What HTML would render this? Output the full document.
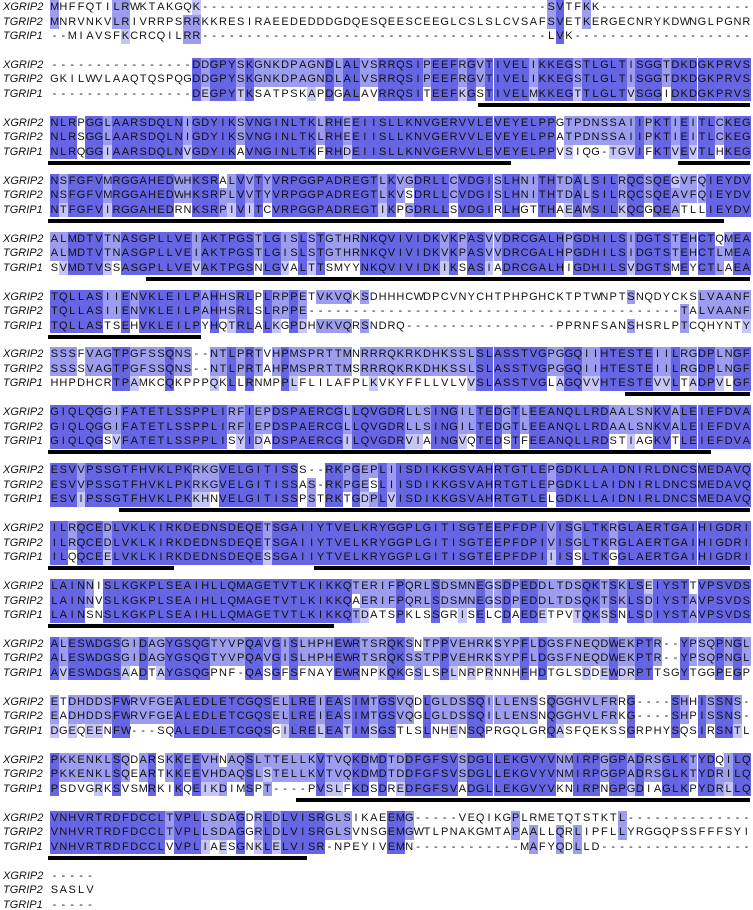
<!DOCTYPE html>
<html><head><meta charset="utf-8">
<style>
html,body{margin:0;padding:0;background:#fff;}
#aln{position:relative;width:753px;height:910px;overflow:hidden;font-family:"Liberation Sans",Arial,sans-serif;font-size:11px;color:#111;}
.lab{position:absolute;left:3px;font-style:italic;line-height:14.5px;height:14.5px;}
.c{position:absolute;width:8.87px;height:14.5px;line-height:14.5px;text-align:center;}
.ul{position:absolute;height:4px;background:#000;}
</style></head>
<body>
<div id="aln"></div>
<script>
const names = ["XGRIP2","TGRIP2","TGRIP1"];
const xgrip2 = [
"MHFFQTILRWKTAKGQK---------------------------------------SVTFKK-----------------",
"----------------DDGPYSKGNKDPAGNDLALVSRRQSIPEEFRGVTIVELIKKEGSTLGLTISGGTDKDGKPRVS",
"NLRPGGLAARSDQLNIGDYIKSVNGINLTKLRHEEIISLLKNVGERVVLEVEYELPPGTPDNSSAIIPKTIEITLCKEG",
"NSFGFVMRGGAHEDWHKSRALVVTYVRPGGPADREGTLKVGDRLLCVDGISLHNITHTDALSILRQCSQEGVFQIEYDV",
"ALMDTVTNASGPLLVEIAKTPGSTLGISLSTGTHRNKQVIVIDKVKPASVVDRCGALHPGDHILSIDGTSTEHCTQMEA",
"TQLLASIIENVKLEILPAHHSRLPLRPPETVKVQKSDHHHCWDPCVNYCHTPHPGHCKTPTWNPTSNQDYCKSLVAANF",
"SSSFVAGTPGFSSQNS--NTLPRTVHPMSPRTTMNRRRQKRKDHKSSLSLASSTVGPGGQIIHTESTEIILRGDPLNGF",
"GIQLQGGIFATETLSSPPLIRFIEPDSPAERCGLLQVGDRLLSINGILTEDGTLEEANQLLRDAALSNKVALEIEFDVA",
"ESVVPSSGTFHVKLPKRKGVELGITISSS--RKPGEPLIISDIKKGSVAHRTGTLEPGDKLLAIDNIRLDNCSMEDAVQ",
"ILRQCEDLVKLKIRKDEDNSDEQETSGAIIYTVELKRYGGPLGITISGTEEPFDPIVISGLTKRGLAERTGAIHIGDRI",
"LAINNISLKGKPLSEAIHLLQMAGETVTLKIKKQTERIFPQRLSDSMNEGSDPEDDLTDSQKTSKLSEIYSTTVPSVDS",
"ALESWDGSGIDAGYGSQGTYVPQAVGISLHPHEWRTSRQKSNTPPVEHRKSYPFLDGSFNEQDWEKPTR--YPSQPNGL",
"ETDHDDSFWRVFGEALEDLETCGQSELLREIEASIMTGSVQDLGLDSSQILLENSSQGGHVLFRRG----SHHISSNS-",
"PKKENKLSQDARSKKEEVHNAQSLTTELLKVTVQKDMDTDDFGFSVSDGLLEKGVYVNMIRPGGPADRSGLKTYDQILQ",
"VNHVRTRDFDCCLTVPLLSDAGDRLDLVISRGLSIKAEEMG-----VEQIKGPLRMETQTSTKTL--------------",
"-----"];
const tgrip2 = [
"MNRVNKVLRIVRRPSRRKKRESIRAEEDEDDDGDQESQEESCEEGLCSLSLCVSAFSVETKERGECNRYKDWNGLPGNR",
"GKILWVLAAQTQSPQGDDGPYSKGNKDPAGNDLALVSRRQSIPEEFRGVTIVELIKKEGSTLGLTISGGTDKDGKPRVS",
"NLRSGGLAARSDQLNIGDYIKSVNGINLTKLRHEEIISLLKNVGERVVLEVEYELPPATPDNSSAIIPKTIEITLCKEG",
"NSFGFVMRGGAHEDWHKSRPLVVTYVRPGGPADREGTLKVSDRLLCVDGISLHNITHTDALSILRQCSQEAVFQIEYDV",
"ALMDTVTNASGPLLVEIAKTPGSTLGISLSTGTHRNKQVIVIDKVKPASVVDRCGALHPGDHILSIDGTSTEHCTLMEA",
"TQLLASIIENVKLEILPAHHSRLSLRPPE------------------------------------------TALVAANF",
"SSSSVAGTPGFSSQNS--NTLPRTAHPMSPRTTMSRRRQKRKDHKSSLSLASSTVGPGGQIIHTESTEIILRGDPLNGF",
"GIQLQGGIFATETLSSPPLIRFIEPDSPAERCGLLQVGDRLLSINGILTEDGTLEEANQLLRDAALSNKVALEIEFDVA",
"ESVVPSSGTFHVKLPKRKGVELGITISSAS-RKPGESLIISDIKKGSVAHRTGTLEPGDKLLAIDNIRLDNCSMEDAVQ",
"ILRQCEDLVKLKIRKDEDNSDEQETSGAIIYTVELKRYGGPLGITISGTEEPFDPIVISGLTKRGLAERTGAIHIGDRI",
"LAINNVSLKGKPLSEAIHLLQMAGETVTLKIKKQAERIFPQRLSDSMNEGSDPEDDLTDSQKTSKLSDIYSTAVPSVDS",
"ALESWDGSGIDAGYGSQGTYVPQAVGISLHPHEWRTSRQKSSTPPVEHRKSYPFLDGSFNEQDWEKPTR--YPSQPNGL",
"EADHDDSFWRVFGEALEDLETCGQSELLREIEASIMTGSVQGLGLDSSQILLENSNQGGHVLFRKG----SHPISSNS-",
"PKKENKLSQEARTKKEEVHDAQSLSTELLKVTVQKDMDTDDFGFSVSDGLLEKGVYVNMIRPGGPADRSGLKTYDRILQ",
"VNHVRTRDFDCCLTVPLLSDAGGRLDLVISRGLSVNSGEMGWTLPNAKGMTAPAALLQRLIPFLLYRGGQPSSFFFSYI",
"SASLV"];
const tgrip1 = [
"--MIAVSFKCRCQILRR---------------------------------------LVK--------------------",
"----------------DEGPYTKSATPSKAPDGALAVRRQSITEEFKGSTIVELMKKEGTTLGLTVSGGIDKDGKPRVS",
"NLRQGGIAARSDQLNVGDYIKAVNGINLTKFRHDEIISLLKNVGERVVLEVEYELPPVSIQG-TGVIFKTVEVTLHKEG",
"NTFGFVIRGGAHEDRNKSRPIVITCVRPGGPADREGTIKPGDRLLSVDGIRLHGTTHAEAMSILKQCGQEATLLIEYDV",
"SVMDTVSSASGPLLVEVAKTPGSNLGVALTTSMYYNKQVIVIDKIKSASIADRCGALHIGDHILSVDGTSMEYCTLAEA",
"TQLLASTSEHVKLEILPYHQTRLALKGPDHVKVQRSNDRQ-----------------PPRNFSANSHSRLPTCQHYNTY",
"HHPDHCRTPAMKCQKPPPQKLLRNMPPLFLILAFPLKVKYFFLLVLVVSLASSTVGLAGQVVHTESTEVVLTADPVLGF",
"GIQLQGSVFATETLSSPPLISYIDADSPAERCGILQVGDRVIAINGVQTEDSTFEEANQLLRDSTIAGKVTLEIEFDVA",
"ESVIPSSGTFHVKLPKKHNVELGITISSPSTRKTGDPLVISDIKKGSVAHRTGTLELGDKLLAIDNIRLDNCSMEDAVQ",
"ILQQCEELVKLKIRKDEDNSDEQESSGAIIYTVELKRYGGPLGITISGTEEPFDPIIISSLTKGGLAERTGAIHIGDRI",
"LAINSNSLKGKPLSEAIHLLQMAGETVTLKIKKQTDATSPKLSSGRISELCDAEDETPVTQKSSNLSDIYSTAVPSVDS",
"AVESWDGSAADTAYGSQGPNF-QASGFSFNAYEWRNPKQKGSLSPLNRPRNNHFHDTGLSDDEWDRPTTSGYTGGPEGP",
"DGEQEENFW---SQALEDLETCGQSGILRELEATIMSGSTLSLNHENSQPRGQLGRQASFQEKSSGRPHYSQSIRSNTL",
"PSDVGRKSVSMRKIKQEIKDIMSPT----PVSLFKDSDREDFGFSVADGLLEKGVYVKNIRPNGPGDIAGLKPYDRLLQ",
"VNHVRTRDFDCCLVVPLIAESGNKLELVISR-NPEYIVEMN------------MAFYQDLLD-----------------",
"-----"];
const domainBlocks = [1,2,2,3,4,5,6,7,8,9,9,10,13,14];
const domainStartCol = [48.5,0,71,0,11,0,65,0,8,0,30,0,28,0];
const domainEndCol = [79,52,79,76,79,17,79,74.5,79,14,79,32,79,29];

const groups = ["ILVM","FYW","KRH","DE","NQ","ST","AG"];
function grp(ch){ for (let g=0; g<groups.length; g++) if (groups[g].indexOf(ch)>=0) return g; return -1; }

const root = document.getElementById('aln');
const X0 = 50, CW = 8.87, BP = 57.9, RP = 14.5, Y0 = 0;
const seqs = [xgrip2, tgrip2, tgrip1];
for (let b = 0; b < xgrip2.length; b++) {
  const top = Y0 + b * BP;
  const rows = seqs.map(s => s[b]);
  for (let r = 0; r < 3; r++) {
    const lab = document.createElement('div');
    lab.className = 'lab';
    lab.style.top = (top + r * RP) + 'px';
    lab.textContent = names[r];
    
    
    root.appendChild(lab);
  }
  const len = rows[0].length;
  for (let i = 0; i < len; i++) {
    const col = rows.map(s => s[i] || '-');
    const counts = {};
    let cons = null, best = 0;
    col.forEach(ch => { if (ch !== '-') { counts[ch] = (counts[ch] || 0) + 1; if (counts[ch] > best) { best = counts[ch]; cons = ch; } } });
    const nonGap = col.filter(c => c !== '-');
    const allSameGroup = nonGap.length === 3 && grp(nonGap[0]) >= 0 && nonGap.every(c => grp(c) === grp(nonGap[0]));
    for (let r = 0; r < 3; r++) {
      const ch = col[r];
      const cell = document.createElement('div');
      cell.className = 'c';
      cell.style.left = (X0 + i * CW) + 'px';
      cell.style.top = (top + r * RP) + 'px';
      cell.textContent = ch;
      if (ch !== '-') {
        const n = counts[ch];
        if (n === 3) cell.style.background = '#6666e4';
        else if (n === 2) cell.style.background = '#9d9df0';
        else if (best >= 2 && grp(ch) >= 0 && grp(ch) === grp(cons)) cell.style.background = '#c6c6f6';
        else if (allSameGroup) cell.style.background = '#c6c6f6';
      }
      
      
      root.appendChild(cell);
    }
  }
}
for (let k = 0; k < domainBlocks.length; k++) {
  const u = document.createElement('div');
  u.className = 'ul';
  const x0 = X0 + domainStartCol[k] * CW - 2;
  const x1 = Math.min(750, X0 + domainEndCol[k] * CW);
  u.style.left = x0 + 'px';
  u.style.width = (x1 - x0) + 'px';
  u.style.top = (Y0 + domainBlocks[k] * BP + 2 * RP + 16) + 'px';
  
  
  root.appendChild(u);
}
</script>
</body></html>
